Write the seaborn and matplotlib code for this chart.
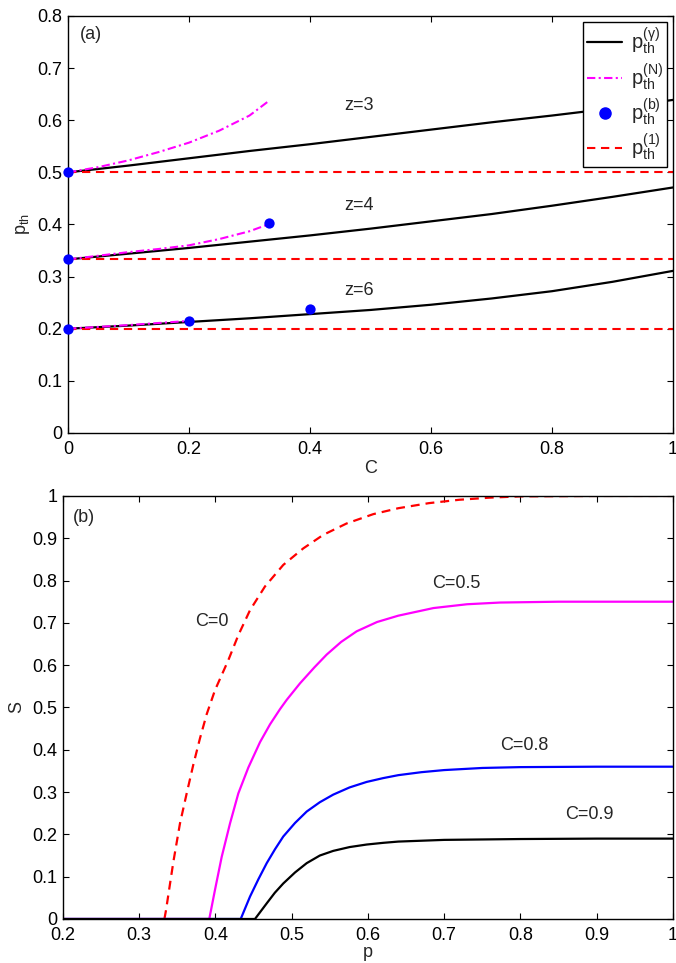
import matplotlib
matplotlib.use("Agg")
import matplotlib.pyplot as plt
import seaborn as sns
import numpy as np
from matplotlib.lines import Line2D

# ---------------- data: panel (a) ----------------
C_grid = [0.0, 0.1, 0.2, 0.3, 0.4, 0.5, 0.6, 0.7, 0.8, 0.9, 1.0]
gamma_z3 = [0.500, 0.513, 0.527, 0.541, 0.554, 0.568, 0.582, 0.596, 0.609, 0.623, 0.639]
gamma_z4 = [0.333, 0.344, 0.355, 0.367, 0.379, 0.392, 0.406, 0.420, 0.436, 0.453, 0.471]
gamma_z6 = [0.200, 0.206, 0.213, 0.220, 0.228, 0.236, 0.246, 0.258, 0.272, 0.290, 0.311]

N_C_z3 = [0.0, 0.05, 0.1, 0.15, 0.2, 0.25, 0.3, 0.333]
N_z3 = [0.500, 0.510, 0.523, 0.539, 0.557, 0.580, 0.609, 0.638]
N_C_z4 = [0.0, 0.05, 0.1, 0.15, 0.2, 0.25, 0.3, 0.333]
N_z4 = [0.333, 0.340, 0.347, 0.353, 0.360, 0.372, 0.387, 0.401]
N_C_z6 = [0.0, 0.1, 0.2]
N_z6 = [0.200, 0.207, 0.215]

b_C = [0.0, 0.0, 0.0, 0.2, 0.333, 0.4]
b_p = [0.500, 0.333, 0.200, 0.2155, 0.4035, 0.238]

one_levels = [0.5, 1/3, 0.2]
z_labels = ["z=3", "z=4", "z=6"]
z_label_y = [0.628, 0.436, 0.274]

# ---------------- data: panel (b) ----------------
p_C0 = [0.3333, 0.3354, 0.345, 0.3537, 0.3625, 0.3712, 0.3799, 0.3887, 0.3996, 0.4171,
        0.4302, 0.4455, 0.4651, 0.4891, 0.5153, 0.5415, 0.5722, 0.6071, 0.6399, 0.68,
        0.72, 0.76, 0.80, 0.9, 1.0]
S_C0 = [0.0, 0.021, 0.135, 0.226, 0.297, 0.365, 0.427, 0.484, 0.541, 0.612,
        0.671, 0.730, 0.786, 0.837, 0.876, 0.908, 0.935, 0.957, 0.971, 0.983,
        0.991, 0.996, 0.999, 1.0, 1.0]

p_C05 = [0.2, 0.3921, 0.3996, 0.4084, 0.4193, 0.4302, 0.4433, 0.4586, 0.4717, 0.4848,
         0.4936, 0.5110, 0.530, 0.546, 0.565, 0.5853, 0.612, 0.6399, 0.686, 0.73,
         0.773, 0.85, 1.0]
S_C05 = [0.0, 0.0, 0.069, 0.147, 0.226, 0.297, 0.358, 0.418, 0.460, 0.496,
         0.518, 0.557, 0.595, 0.625, 0.655, 0.680, 0.702, 0.717, 0.735, 0.744,
         0.748, 0.750, 0.750]

p_C08 = [0.2, 0.4333, 0.4455, 0.4565, 0.4674, 0.4783, 0.4891, 0.5045, 0.5198, 0.537,
         0.5546, 0.576, 0.5984, 0.62, 0.6399, 0.67, 0.70, 0.75, 0.80, 0.9, 1.0]
S_C08 = [0.0, 0.0, 0.053, 0.094, 0.132, 0.165, 0.195, 0.227, 0.254, 0.276,
         0.294, 0.311, 0.324, 0.333, 0.340, 0.347, 0.352, 0.357, 0.359, 0.360, 0.360]

p_C09 = [0.2, 0.452, 0.4674, 0.478, 0.4891, 0.5045, 0.5198, 0.537, 0.5546, 0.576,
         0.5984, 0.62, 0.6399, 0.67, 0.70, 0.75, 0.80, 0.9, 1.0]
S_C09 = [0.0, 0.0, 0.037, 0.062, 0.084, 0.110, 0.132, 0.150, 0.161, 0.170,
         0.176, 0.180, 0.183, 0.185, 0.187, 0.188, 0.189, 0.190, 0.190]

# ---------------- style ----------------
sns.set_style("ticks")
plt.rcParams['font.family'] = ['Liberation Sans', 'DejaVu Sans']
plt.rcParams['mathtext.fontset'] = 'custom'
plt.rcParams['mathtext.rm'] = 'Liberation Sans'
plt.rcParams['mathtext.it'] = 'Liberation Sans:italic'
FS = 13

fig = plt.figure(figsize=(6.76, 9.63), dpi=100)
ax1 = fig.add_axes([0.1006, 0.5504, 0.8950, 0.4330])
ax2 = fig.add_axes([0.0928, 0.0457, 0.9028, 0.4393])

RED = '#ff0000'
MAG = '#ff00ff'
BLUE = '#0000ff'
dashed = (0, (4, 2.7))
dashdot = (0, (4, 1.6, 1.0, 1.6))

# panel (a)
for ys in (gamma_z3, gamma_z4, gamma_z6):
    sns.lineplot(x=C_grid, y=ys, color='black', lw=1.6, ax=ax1, estimator=None, sort=False)
for lv in one_levels:
    sns.lineplot(x=[0, 1], y=[lv, lv], color=RED, lw=1.5, linestyle=dashed, ax=ax1,
                 estimator=None, sort=False)
for xs, ys in ((N_C_z3, N_z3), (N_C_z4, N_z4), (N_C_z6, N_z6)):
    sns.lineplot(x=xs, y=ys, color=MAG, lw=1.5, linestyle=dashdot, ax=ax1,
                 estimator=None, sort=False)
sns.scatterplot(x=b_C, y=b_p, color=BLUE, s=55, edgecolor=BLUE, linewidth=0,
                ax=ax1, zorder=5, clip_on=False)

for lab, yy in zip(z_labels, z_label_y):
    ax1.text(0.457, yy, lab, fontsize=FS, va='center', ha='left')
ax1.text(0.0375, 0.764, "(a)", fontsize=FS, va='center', ha='center')

ax1.set_xlim(0, 1)
ax1.set_ylim(0, 0.8)
ax1.set_xticks([0, 0.2, 0.4, 0.6, 0.8, 1.0])
ax1.set_xticklabels(["0", "0.2", "0.4", "0.6", "0.8", "1"])
ax1.set_yticks(np.arange(0, 0.81, 0.1))
ax1.set_yticklabels(["0", "0.1", "0.2", "0.3", "0.4", "0.5", "0.6", "0.7", "0.8"])
ax1.set_xlabel("C", fontsize=FS, labelpad=1)
ax1.set_ylabel(r"$\mathrm{p_{th}}$", fontsize=FS, labelpad=4)

handles = [
    Line2D([], [], color='black', lw=1.6),
    Line2D([], [], color=MAG, lw=1.5, linestyle=dashdot),
    Line2D([], [], color=BLUE, marker='o', linestyle='none', markersize=8),
    Line2D([], [], color=RED, lw=1.5, linestyle=dashed),
]
labels = [r"$\mathrm{p_{th}^{(\gamma)}}$", r"$\mathrm{p_{th}^{(N)}}$",
          r"$\mathrm{p_{th}^{(b)}}$", r"$\mathrm{p_{th}^{(1)}}$"]
leg = ax1.legend(handles, labels, loc='upper right', fontsize=FS + 1.5, frameon=True,
                 fancybox=False, edgecolor='black', framealpha=1,
                 borderaxespad=0.3, handlelength=1.7, labelspacing=0.2,
                 handletextpad=0.45, borderpad=0.2)
leg.get_frame().set_linewidth(1.0)

# panel (b)
sns.lineplot(x=p_C0, y=S_C0, color=RED, lw=1.6, linestyle=dashed, ax=ax2,
             estimator=None, sort=False)
sns.lineplot(x=p_C05, y=S_C05, color=MAG, lw=1.6, ax=ax2, estimator=None, sort=False)
sns.lineplot(x=p_C08, y=S_C08, color=BLUE, lw=1.6, ax=ax2, estimator=None, sort=False)
sns.lineplot(x=p_C09, y=S_C09, color='black', lw=1.6, ax=ax2, estimator=None, sort=False)

ax2.text(0.395, 0.703, "C=0", fontsize=FS, ha='center', va='center')
ax2.text(0.716, 0.794, "C=0.5", fontsize=FS, ha='center', va='center')
ax2.text(0.805, 0.411, "C=0.8", fontsize=FS, ha='center', va='center')
ax2.text(0.890, 0.246, "C=0.9", fontsize=FS, ha='center', va='center')
ax2.text(0.228, 0.950, "(b)", fontsize=FS, ha='center', va='center')

ax2.set_xlim(0.2, 1)
ax2.set_ylim(0, 1)
ax2.set_xticks(np.arange(0.2, 1.01, 0.1))
ax2.set_xticklabels(["0.2", "0.3", "0.4", "0.5", "0.6", "0.7", "0.8", "0.9", "1"])
ax2.set_yticks(np.arange(0, 1.01, 0.1))
ax2.set_yticklabels(["0", "0.1", "0.2", "0.3", "0.4", "0.5", "0.6", "0.7", "0.8", "0.9", "1"])
ax2.set_xlabel("p", fontsize=FS, labelpad=0)
ax2.set_ylabel("S", fontsize=FS, labelpad=5)

for ax in (ax1, ax2):
    for sp in ax.spines.values():
        sp.set_visible(True)
        sp.set_color('black')
        sp.set_linewidth(1.0)
    ax.tick_params(direction='in', length=4, width=0.8, top=True, right=True,
                   labelsize=FS, colors='black')
    ax.tick_params(axis='x', pad=6)
    ax.tick_params(axis='y', pad=4)
    ax.grid(False)

fig.savefig("out.png", dpi=100)
